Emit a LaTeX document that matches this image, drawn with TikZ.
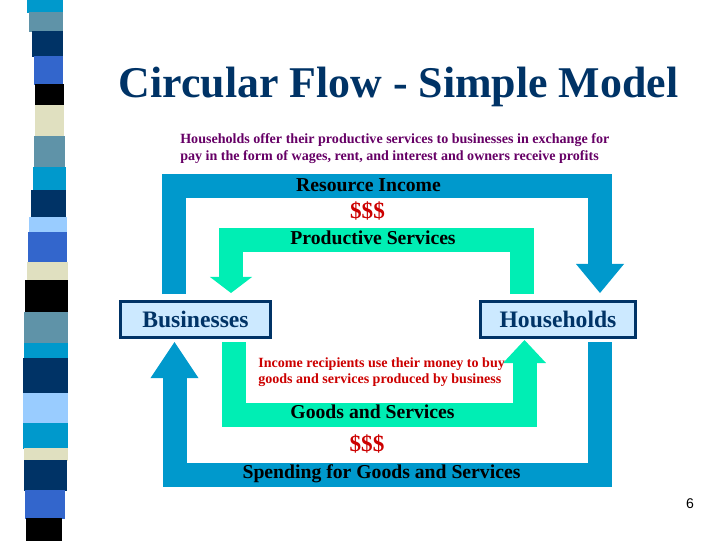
\documentclass[tikz,border=0pt]{standalone}
\usepackage{fontspec}
\setmainfont{Liberation Serif}
\setsansfont{Liberation Sans}
\usetikzlibrary{arrows.meta}
\definecolor{flowblue}{RGB}{0,153,204}
\definecolor{flowgreen}{RGB}{0,238,180}
\definecolor{navy}{RGB}{0,51,102}
\definecolor{boxfill}{RGB}{204,233,255}
\definecolor{plum}{RGB}{102,0,102}
\definecolor{cashred}{RGB}{204,0,0}
\definecolor{steel}{RGB}{95,147,168}
\definecolor{royal}{RGB}{51,102,204}
\definecolor{sand}{RGB}{224,224,192}
\definecolor{sky}{RGB}{153,204,255}

\begin{document}
\begin{tikzpicture}[x=0.025cm,y=-0.025cm,
  pipe/.style={line width=0.6cm,line join=miter},
  flowlabel/.style={font=\fontsize{14}{16}\selectfont\bfseries,anchor=base,inner sep=0pt},
  cash/.style={font=\fontsize{16.5}{18}\selectfont\bfseries,text=cashred,anchor=base,inner sep=0pt},
  note/.style={font=\fontsize{10}{12}\selectfont\bfseries,anchor=base west,inner sep=0pt},
  sector/.style={draw=navy,line width=0.075cm,fill=boxfill,minimum height=0.9cm,inner sep=0pt,
    text=navy,font=\fontsize{16.8}{20}\selectfont\bfseries}]
  \useasboundingbox (0,0) rectangle (720,540);

  \foreach \ya/\yb/\xl/\xr/\col in {0/12/27/63/flowblue, 12/31/29/63/steel, 31/56/32/63/navy,
      56/84/34/63/royal, 84/105/35/64/black, 105/136/35/64/sand, 136/167/34/65/steel,
      167/190/33/66/flowblue, 190/217/31/66/navy, 217/232/29/67/sky, 232/262/28/67/royal,
      262/280/27/68/sand, 280/312/25/68/black, 312/343/24/68/steel, 343/358/24/68/flowblue,
      358/393/23/68/navy, 393/423/23/68/sky, 423/448/23/68/flowblue, 448/460/24/68/sand,
      460/490/24/67/navy, 490/518/25/65/royal, 518/540/26/62/black}
    \fill[\col] (\xl,\ya) rectangle (\xr,\yb+0.5);

  \node[anchor=base,inner sep=0pt,text=navy,font=\fontsize{31.2}{36}\selectfont\bfseries] (title)
    at (398.5,97) {Circular Flow - Simple Model};
  \node[note,text=plum] (offer) at (180,143)
    {Households offer their productive services to businesses in exchange for};
  \node[note,text=plum] (offer2) at (180,160)
    {pay in the form of wages, rent, and interest and owners receive profits};

  \node[sector,minimum width=3.75cm] (Businesses) at (195.5,319.5) {Businesses};
  \node[sector,minimum width=3.875cm] (Households) at (558,319.5) {Households};

  \draw[pipe,flowblue,shorten <=0.15cm,shorten >=0.175cm,
    -{Triangle[width=1.2cm,length=0.725cm,line width=0pt]}]
    (174,0 |- Businesses.north) |- (600,186) -- (600,0 |- Households.north);
  \draw[pipe,flowgreen,shorten <=0.15cm,shorten >=0.175cm,
    -{Triangle[width=1.05cm,length=0.4cm,line width=0pt]}]
    (522,0 |- Households.north) |- (231,240) -- (231,0 |- Businesses.north);
  \draw[pipe,flowgreen,shorten <=0.075cm,shorten >=0.025cm,
    -{Triangle[width=1.075cm,length=0.575cm,line width=0pt]}]
    (234,0 |- Businesses.south) |- (524.5,414.5) -- (524.5,0 |- Households.south);
  \draw[pipe,flowblue,shorten <=0.075cm,shorten >=0.075cm,
    -{Triangle[width=1.2cm,length=0.9cm,line width=0pt]}]
    (600,0 |- Households.south) |- (174.5,474.5) -- (174.5,0 |- Businesses.south);

  \node[flowlabel] (income) at (368.5,191) {Resource Income};
  \node[cash] (cashtop) at (367.5,218) {\$\$\$};
  \node[flowlabel] (services) at (373,244) {Productive Services};
  \node[note,text=cashred] (buy) at (258,367) {Income recipients use their money to buy};
  \node[note,text=cashred] (buy2) at (258,383) {goods and services produced by business};
  \node[flowlabel] (goods) at (372.5,418) {Goods and Services};
  \node[cash] (cashbot) at (367,451) {\$\$\$};
  \node[flowlabel] (spending) at (381.5,478) {Spending for Goods and Services};

  \node[anchor=base,inner sep=0pt,font=\sffamily\fontsize{10}{12}\selectfont] (page) at (690,508) {6};
\end{tikzpicture}
\end{document}
